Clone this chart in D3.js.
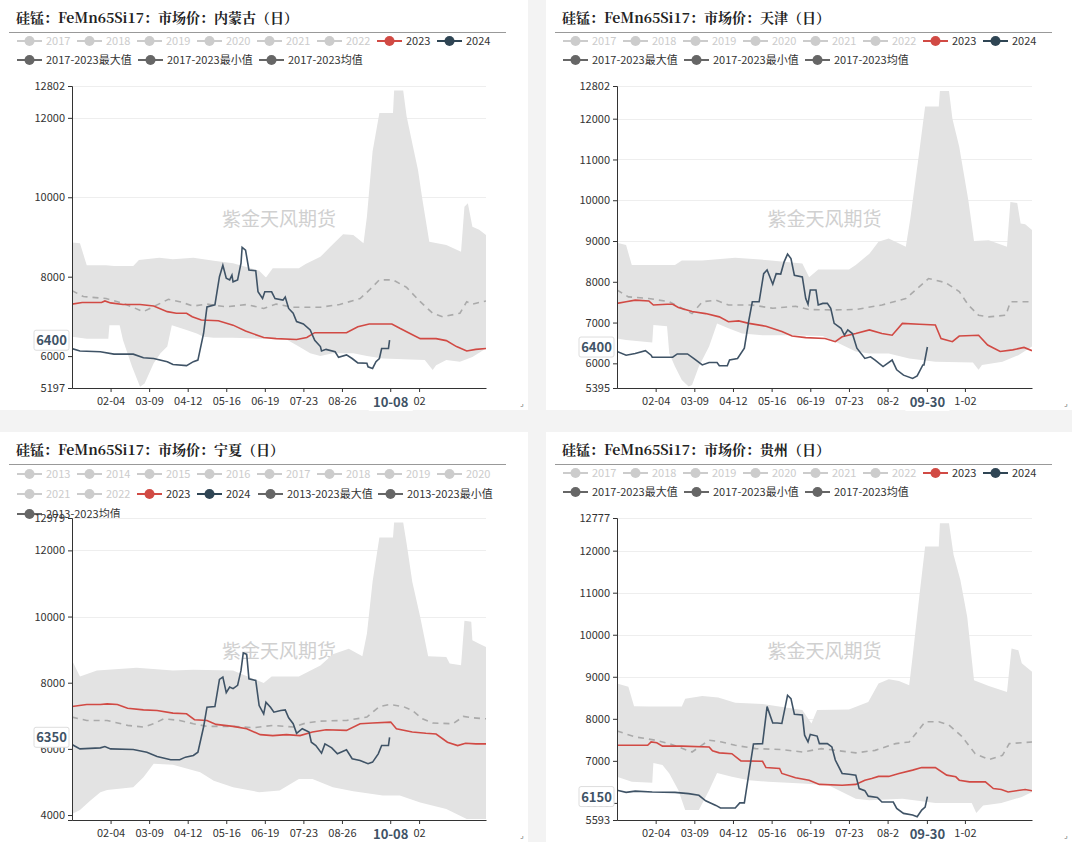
<!DOCTYPE html>
<html><head><meta charset="utf-8">
<script src="https://cdn.jsdelivr.net/npm/d3@7/dist/d3.min.js"></script>
<style>body{margin:0;background:#f3f3f3;font-family:"Noto Sans CJK SC","Noto Sans",sans-serif}</style>
</head><body><svg id="c" width="1072" height="842"></svg>
<script>
// ---------- data: [dayOfYear(2024), value] ----------
const titles = ["硅锰：FeMn65Si17：市场价：内蒙古（日）","硅锰：FeMn65Si17：市场价：天津（日）","硅锰：FeMn65Si17：市场价：宁夏（日）","硅锰：FeMn65Si17：市场价：贵州（日）"];
const legendYears17 = ["2017","2018","2019","2020","2021","2022","2023","2024","2017-2023最大值","2017-2023最小值","2017-2023均值"];
const legendYears13 = ["2013","2014","2015","2016","2017","2018","2019","2020","2021","2022","2023","2024","2013-2023最大值","2013-2023最小值","2013-2023均值"];
const xTicks1 = [[35,"02-04"],[69,"03-09"],[103,"04-12"],[137,"05-16"],[171,"06-19"],[205,"07-23"],[239,"08-26"],[307,"02"]];
const xTicks2 = [[35,"02-04"],[69,"03-09"],[103,"04-12"],[137,"05-16"],[171,"06-19"],[205,"07-23"],[239,"08-2"],[307,"1-02"]];
const yTicks1 = [5197,6000,8000,10000,12000,12802];
const yTicks2 = [5395,6000,7000,8000,9000,10000,11000,12000,12802];
const yTicks3 = [4000,6000,8000,10000,12000,12979];
const yTicks4 = [5593,6000,7000,8000,9000,10000,11000,12000,12777];
const pointerX = [[282,"10-08"],[274,"09-30"],[282,"10-08"],[274,"09-30"]];
const pointerY = [6400,6400,6350,6150];
const yRange = [[5197,12802],[5395,12802],[3850,12979],[5593,12777]];

const s2024_1=[[1,6190],[8,6130],[26,6110],[38,6050],[55,6050],[64,5960],[73,5940],[85,5860],[90,5790],[102,5760],[108,5860],[112,5900],[117,6570],[120,7240],[127,7290],[131,8000],[134,8290],[137,7960],[140,7920],[142,8040],[143,7870],[147,7920],[150,8340],[151,8740],[154,8670],[157,8170],[163,8150],[165,7620],[169,7450],[171,7620],[177,7620],[180,7450],[187,7410],[189,7490],[192,7200],[196,7080],[199,6870],[205,6810],[211,6660],[215,6400],[220,6240],[221,6130],[225,6170],[233,6110],[236,5970],[243,6030],[248,5940],[253,5830],[261,5820],[262,5730],[266,5690],[269,5860],[272,5940],[274,6190],[280,6190],[281,6400]];
const s2023_1=[[1,7310],[10,7350],[27,7350],[30,7390],[35,7340],[46,7300],[61,7300],[73,7260],[85,7120],[93,7080],[102,7080],[107,6990],[115,6910],[130,6890],[143,6780],[154,6630],[170,6470],[181,6440],[199,6420],[208,6470],[215,6590],[243,6590],[253,6740],[263,6810],[283,6810],[290,6700],[299,6570],[308,6440],[322,6440],[331,6390],[340,6240],[349,6130],[357,6170],[366,6190]];
const avg_1=[[1,7650],[11,7500],[31,7450],[46,7330],[64,7120],[76,7290],[86,7430],[96,7370],[108,7260],[120,7310],[137,7240],[155,7300],[170,7200],[181,7310],[196,7230],[220,7230],[237,7300],[255,7450],[263,7660],[272,7920],[284,7920],[296,7730],[308,7370],[319,7080],[328,6990],[343,7080],[349,7370],[354,7310],[366,7390]];
const max_1=[[1,8860],[8,8840],[14,8290],[31,8290],[38,8270],[55,8270],[60,8420],[78,8480],[90,8440],[108,8480],[126,8400],[143,8340],[166,8150],[172,7980],[178,8210],[201,8210],[207,8320],[220,8500],[229,8760],[240,9070],[249,9050],[258,8840],[261,9510],[266,11150],[272,12120],[284,12120],[285,12690],[293,12690],[296,12040],[301,11360],[306,10690],[310,9930],[316,8880],[331,8800],[344,8630],[347,9760],[350,9850],[354,9260],[360,9180],[366,9050]];
const min_1=[[1,6490],[14,6440],[33,6440],[34,6780],[43,6780],[46,6400],[54,5730],[61,5230],[65,5310],[73,5820],[79,6070],[85,6240],[89,6780],[102,6660],[111,6570],[117,6490],[126,6460],[143,6460],[166,6440],[189,6440],[201,6240],[211,6070],[220,6000],[231,6070],[249,6070],[261,6000],[275,5940],[312,5900],[319,5650],[322,5770],[331,5900],[343,5860],[354,5980],[366,6190]];

const s2024_2=[[1,6290],[9,6200],[17,6240],[26,6310],[31,6200],[32,6150],[50,6150],[54,6230],[63,6230],[69,6110],[76,5960],[82,6020],[89,6020],[91,5940],[98,5940],[100,6080],[107,6120],[113,6370],[117,7060],[120,7510],[126,7510],[130,8200],[133,8290],[138,7940],[141,8200],[145,8190],[148,8490],[151,8680],[154,8570],[157,8160],[164,8120],[167,7590],[169,7450],[171,7800],[176,7800],[178,7430],[182,7470],[186,7470],[189,7350],[192,6980],[198,6860],[201,6690],[204,6820],[208,6730],[212,6370],[219,6120],[224,6160],[228,6080],[235,5920],[243,6080],[247,5840],[253,5710],[261,5630],[265,5690],[270,5960],[271,5960],[274,6400]];
const s2023_2=[[1,7470],[9,7510],[17,7550],[29,7530],[33,7430],[45,7450],[50,7450],[55,7370],[67,7270],[79,7220],[91,7140],[99,7020],[108,7040],[117,6980],[132,6910],[146,6780],[155,6670],[167,6630],[184,6610],[193,6530],[199,6650],[211,6730],[223,6820],[234,6730],[243,6690],[252,6980],[267,6960],[281,6940],[286,6610],[296,6530],[302,6670],[319,6690],[327,6450],[338,6290],[349,6330],[359,6390],[366,6310]];
const avg_2=[[1,7800],[11,7630],[29,7590],[47,7510],[67,7220],[76,7510],[88,7550],[99,7430],[120,7430],[138,7350],[158,7400],[170,7320],[193,7310],[211,7320],[234,7430],[255,7590],[267,7880],[275,8080],[290,7980],[302,7760],[310,7430],[319,7180],[328,7140],[343,7180],[347,7510],[366,7510]];
const max_2=[[1,8960],[9,8900],[14,8410],[52,8410],[58,8520],[76,8520],[105,8590],[134,8530],[164,8450],[170,8110],[178,8300],[205,8300],[211,8410],[223,8690],[231,8980],[240,9060],[255,8860],[259,9550],[267,11220],[272,12300],[284,12300],[285,12680],[293,12680],[296,12000],[302,11310],[310,10000],[315,9000],[328,9020],[344,8860],[347,9960],[353,9930],[356,9430],[360,9410],[366,9270]];
const min_2=[[1,6610],[9,6570],[32,6510],[33,6940],[45,6910],[47,6240],[52,5920],[58,5590],[64,5430],[67,5470],[73,5920],[82,6410],[89,6980],[99,6860],[111,6730],[129,6690],[152,6690],[182,6670],[196,6490],[211,6290],[223,6240],[240,6240],[258,6120],[281,6040],[314,6020],[319,5840],[322,5960],[340,6040],[354,6200],[366,6410]];

const s2024_3=[[1,6130],[8,6000],[26,6030],[30,6070],[35,6000],[55,5980],[67,5900],[76,5770],[88,5670],[96,5670],[101,5750],[108,5800],[112,5900],[117,6660],[120,7260],[127,7280],[131,8100],[134,8170],[137,7700],[140,7870],[143,7820],[147,7920],[150,8370],[152,8900],[155,8860],[157,8120],[163,8070],[166,7310],[170,7060],[172,7410],[176,7260],[179,7110],[185,7160],[189,7180],[192,6940],[196,6760],[199,6470],[204,6610],[210,6510],[212,6200],[216,6100],[221,5870],[224,6150],[230,6030],[235,5850],[243,5970],[248,5700],[255,5650],[262,5550],[266,5600],[271,5850],[274,6100],[280,6100],[281,6350]];
const s2023_3=[[1,7280],[14,7340],[26,7340],[32,7360],[41,7340],[50,7230],[64,7180],[76,7160],[90,7080],[102,7060],[109,6880],[120,6860],[128,6740],[143,6680],[155,6610],[167,6430],[178,6400],[190,6430],[202,6400],[213,6510],[225,6580],[243,6560],[255,6760],[266,6780],[282,6810],[287,6610],[301,6510],[313,6470],[322,6450],[332,6200],[341,6100],[348,6170],[357,6150],[366,6150]];
const avg_3=[[1,6960],[14,6860],[32,6860],[50,6710],[64,6660],[73,6760],[82,6910],[96,6860],[108,6760],[120,6680],[143,6680],[161,6640],[178,6710],[196,6660],[207,6780],[220,6840],[243,6860],[261,6960],[272,7280],[281,7340],[293,7280],[301,7160],[310,6910],[319,6780],[337,6760],[346,6980],[354,6940],[366,6910]];
const max_3=[[1,8680],[8,8190],[23,8370],[58,8450],[90,8370],[108,8390],[143,8370],[170,7990],[177,8190],[201,8190],[220,8520],[231,8860],[245,9030],[257,8800],[261,9480],[266,11050],[272,12390],[284,12390],[285,12840],[293,12840],[296,12210],[301,11050],[308,9990],[315,8800],[331,8780],[334,8580],[344,8530],[347,9870],[353,9840],[354,9280],[360,9180],[366,9080]];
const min_3=[[1,4030],[8,4150],[17,4430],[26,4690],[32,4760],[55,4840],[64,5140],[73,5550],[90,5520],[102,5410],[114,5290],[126,5040],[143,4840],[166,4690],[184,4740],[201,5090],[213,5090],[231,4840],[249,4720],[275,4590],[290,4590],[308,4380],[331,4180],[349,3880],[366,3880]];

const s2024_4=[[1,6300],[9,6250],[17,6280],[32,6260],[52,6250],[64,6220],[73,6180],[79,6050],[88,5940],[92,5880],[105,5880],[109,6000],[113,6000],[117,6700],[121,7400],[129,7410],[133,8290],[138,7900],[142,7900],[146,7890],[149,8290],[151,8560],[154,8480],[157,8110],[164,8090],[166,7610],[169,7450],[171,7630],[177,7590],[179,7410],[186,7410],[190,7330],[193,7020],[199,6700],[205,6680],[211,6660],[214,6340],[219,6290],[222,6160],[230,6130],[234,6020],[244,6020],[247,5870],[253,5750],[261,5710],[265,5670],[269,5830],[272,5900],[274,6150]];
const s2023_4=[[1,7370],[28,7370],[31,7450],[36,7430],[41,7350],[58,7350],[82,7330],[85,7240],[91,7190],[102,7170],[110,7000],[129,6990],[132,6840],[144,6820],[146,6700],[158,6600],[170,6540],[179,6440],[199,6420],[211,6440],[219,6540],[225,6580],[231,6630],[240,6630],[249,6700],[261,6780],[269,6840],[281,6840],[291,6660],[299,6620],[302,6540],[311,6500],[325,6500],[332,6340],[339,6320],[345,6260],[360,6320],[366,6290]];
const avg_4=[[1,7710],[17,7570],[35,7490],[47,7410],[67,7210],[82,7490],[93,7450],[105,7370],[123,7290],[146,7270],[164,7210],[181,7290],[193,7250],[211,7190],[228,7250],[246,7410],[258,7450],[265,7690],[272,7930],[284,7930],[293,7850],[304,7590],[316,7170],[328,7030],[340,7130],[346,7410],[366,7450]];
const max_4=[[1,8840],[11,8760],[16,8300],[29,8290],[58,8290],[61,8480],[76,8540],[90,8510],[105,8380],[129,8350],[164,8210],[172,7890],[177,8210],[205,8220],[222,8400],[231,8840],[240,8940],[249,8900],[258,8800],[261,9480],[267,10940],[272,12100],[284,12100],[285,12650],[293,12650],[297,11900],[303,11300],[309,10430],[315,8920],[328,8780],[344,8640],[348,9670],[354,9630],[357,9320],[366,9120]];
const min_4=[[1,6620],[14,6500],[32,6480],[33,6950],[41,6900],[47,6700],[55,6300],[61,5830],[73,5830],[82,6300],[89,6710],[102,6620],[117,6540],[134,6500],[164,6460],[187,6420],[199,6260],[211,6100],[223,6060],[252,6100],[281,6000],[313,6000],[317,5760],[323,5940],[339,6000],[357,6140],[366,6260]];

const panelData = [
 {s24:s2024_1,s23:s2023_1,avg:avg_1,max:max_1,min:min_1},
 {s24:s2024_2,s23:s2023_2,avg:avg_2,max:max_2,min:min_2},
 {s24:s2024_3,s23:s2023_3,avg:avg_3,max:max_3,min:min_3},
 {s24:s2024_4,s23:s2023_4,avg:avg_4,max:max_4,min:min_4}];

// ---------- layout ----------
const boxes=[{x:0,y:0},{x:546,y:0},{x:0,y:432},{x:546,y:432}];
const plots=[{l:72,r:486,t:86,b:388},{l:71,r:486,t:86,b:388},{l:72,r:486,t:86,b:388},{l:71,r:486,t:86,b:388}];
const svg=d3.select("#c");
const RED="#d14a44", DARK="#3f5366";
const day=d=>new Date(2024,0,d);

panelData.forEach((pd,i)=>{
  const B=boxes[i], P=plots[i];
  const g=svg.append("g").attr("transform",`translate(${B.x},${B.y})`);
  g.append("rect").attr("width",i%2?526:528).attr("height",410).attr("fill","#fff");
  g.append("text").attr("x",16).attr("y",23).attr("font-size",14).attr("font-weight","bold")
   .attr("fill","#222").attr("font-family","'Noto Serif CJK SC','Noto Sans CJK SC',serif").text(titles[i]);
  g.append("line").attr("x1",9).attr("x2",506).attr("y1",32.5).attr("y2",32.5).attr("stroke","#999");
  const items = i===2?legendYears13:legendYears17;
  const pos=[];
  if(i===2){ items.forEach((t,k)=>{ if(k<8) pos.push([17+60*k,42]); else if(k<12) pos.push([17+60*(k-8),62]); else if(k===12) pos.push([258,62]); else if(k===13) pos.push([378,62]); else pos.push([17,82]);}); }
  else { items.forEach((t,k)=>{ if(k<8) pos.push([17+60*k,41]); else pos.push([17+121*(k-8),60]);}); }
  items.forEach((t,k)=>{
    const [lx,ly]=pos[k];
    let col="#ccc", tc="#ccc";
    if(t==="2023"){col=RED;tc="#333";} else if(t==="2024"){col="#2f4554";tc="#333";} else if(t.includes("-")){col="#666";tc="#333";}
    const lg=g.append("g");
    lg.append("line").attr("x1",lx).attr("x2",lx+25).attr("y1",ly).attr("y2",ly).attr("stroke",col).attr("stroke-width",2);
    lg.append("circle").attr("cx",lx+12.5).attr("cy",ly).attr("r",5).attr("fill",col);
    lg.append("text").attr("x",lx+29).attr("y",ly+4).attr("font-size",11).attr("fill",tc).text(t);
  });
  const x=d3.scaleTime().domain([day(1),day(366)]).range([P.l,P.r]);
  const y=d3.scaleLinear().domain(yRange[i]).range([P.b,P.t]);
  const yt=[yTicks1,yTicks2,yTicks3,yTicks4][i];
  g.append("g").selectAll("line").data(yt).join("line").attr("x1",P.l).attr("x2",P.r)
   .attr("y1",d=>Math.round(y(d))+.5).attr("y2",d=>Math.round(y(d))+.5).attr("stroke","#eee");
  g.append("text").attr("x",(P.l+P.r)/2).attr("y",P.t+140).attr("text-anchor","middle").attr("font-size",19)
   .attr("fill","#d0d0d0").text("紫金天风期货");
  const up=d3.area().x(d=>x(day(d[0]))).y0(P.b).y1(d=>y(d[1]));
  const clipId="clip"+i;
  g.append("clipPath").attr("id",clipId).append("rect").attr("x",P.l).attr("y",P.t).attr("width",P.r-P.l).attr("height",P.b-P.t);
  const pg=g.append("g").attr("clip-path",`url(#${clipId})`);
  pg.append("path").attr("d",up(pd.max)).attr("fill","#e3e3e3");
  pg.append("path").attr("d",up(pd.min)).attr("fill","#fff");
  const ln=d3.line().x(d=>x(day(d[0]))).y(d=>y(d[1]));
  pg.append("path").attr("d",ln(pd.avg)).attr("fill","none").attr("stroke","#aaa").attr("stroke-width",1.6).attr("stroke-dasharray","6,5");
  pg.append("path").attr("d",ln(pd.s23)).attr("fill","none").attr("stroke",RED).attr("stroke-width",1.6);
  pg.append("path").attr("d",ln(pd.s24)).attr("fill","none").attr("stroke",DARK).attr("stroke-width",1.6);
  const ya=g.append("g").attr("transform",`translate(${P.l},0)`).call(d3.axisLeft(y).tickValues(yt).tickFormat(d3.format("d")).tickSize(4));
  ya.select(".domain").attr("stroke","#333"); ya.selectAll("line").attr("stroke","#333");
  ya.selectAll("text").attr("font-size",11).attr("fill","#333").attr("font-family","'Noto Sans CJK SC'");
  const xt=i%2?xTicks2:xTicks1;
  const xa=g.append("g").attr("transform",`translate(0,${P.b})`).call(d3.axisBottom(x).tickValues(xt.map(d=>day(d[0]))).tickFormat((d,k)=>xt[k][1]).tickSize(4).tickSizeOuter(0));
  xa.select(".domain").attr("stroke","#333"); xa.selectAll("line").attr("stroke","#333");
  xa.selectAll("text").attr("font-size",11).attr("fill","#333").attr("dy","0.9em").attr("font-family","'Noto Sans CJK SC'");
  const px=x(day(pointerX[i][0]));
  g.append("line").attr("x1",px).attr("x2",px).attr("y1",P.b).attr("y2",P.b+4).attr("stroke","#333");
  g.append("rect").attr("x",px-22).attr("y",P.b+5).attr("width",44).attr("height",18).attr("fill","#fff");
  g.append("text").attr("x",px).attr("y",P.b+19).attr("text-anchor","middle").attr("font-size",13).attr("font-weight","bold").attr("fill","#3f5366").text(pointerX[i][1]);
  const py=y(pointerY[i]);
  g.append("rect").attr("x",P.l-38).attr("y",py-10).attr("width",35).attr("height",20).attr("rx",2).attr("fill","#fff").attr("stroke","#ddd");
  g.append("text").attr("x",P.l-20.5).attr("y",py+5).attr("text-anchor","middle").attr("font-size",13).attr("font-weight","bold").attr("fill","#3f5366").text(pointerY[i]);
  g.append("text").attr("x",i%2?518:520).attr("y",406).attr("font-size",8).attr("fill","#666").text("⌟");
});
</script></body></html>
